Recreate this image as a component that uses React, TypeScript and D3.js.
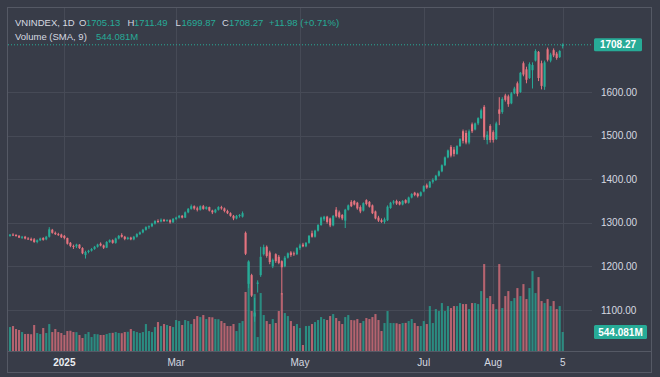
import React from 'react';
import * as d3 from 'd3';

const opens = [
1270,1273,1272,1270,1266,1268,1264,1263,1262,1256,1260,1265,1262,1268,1284,1277,1274,1273,
1270,1265,1254,1247,1246,1250,1242,1226,1233,1236,1240,1245,1252,1248,1243,1256,1260,
1254,1264,1272,1268,1263,1266,1262,1268,1274,1278,1284,1290,1292,1298,1304,1303,1307,1304,1306,1301,
1309,1312,1316,1312,1324,1332,1338,1333,1330,1338,1332,1336,1328,1324,1330,1336,1333,1327,1322,1316,1310,1316,1314,
1277,1160,1180,1085,1160,1180,1228,1245,1232,1200,1228,1222,1212,1200,1220,1232,1230,1228,
1242,1250,1246,1254,1276,1268,1282,1295,1308,1314,1310,1294,1330,1324,1318,1305,1330,1348,1350,1346,1336,1328,
1352,1348,1340,1326,1312,1306,1302,1306,1334,1346,1350,1348,1342,1352,1346,1358,1369,1367,1362,
1372,1386,1381,1394,1398,1408,1418,1432,1450,1474,1468,1458,1476,1510,1506,1484,1526,1514,1528,1540,1566,1490,1522,
1508,1492,1560,1554,1592,1590,1574,1597,1620,1600,1666,1652,1632,1650,1672,1692,1666,1612,1698,1672,1696,1688,1680,1705.13
];
const highs = [
1274,1276,1274,1272,1270,1270,1267,1266,1265,1262,1266,1267,1270,1290,1286,1280,1277,1275,
1272,1266,1256,1250,1252,1251,1244,1236,1238,1242,1247,1252,1255,1250,1258,1262,1262,
1266,1272,1276,1270,1268,1268,1270,1276,1280,1286,1292,1294,1300,1306,1308,1310,1309,1308,1308,1311,
1314,1318,1318,1326,1334,1342,1340,1337,1340,1341,1338,1337,1330,1332,1338,1339,1335,1330,1324,1318,1318,1320,1326,
1280,1214,1183,1128,1168,1245,1250,1248,1236,1218,1230,1226,1214,1224,1232,1235,1234,1244,
1252,1254,1256,1272,1282,1284,1297,1314,1316,1316,1312,1318,1336,1328,1320,1332,1342,1352,1352,1348,1340,1347,
1354,1350,1342,1328,1316,1310,1312,1340,1348,1352,1353,1350,1352,1354,1360,1368,1371,1369,1372,
1386,1390,1396,1402,1410,1420,1434,1452,1468,1478,1474,1478,1494,1514,1512,1514,1530,1530,1542,1562,1570,1510,1526,
1512,1532,1588,1588,1596,1594,1600,1612,1624,1646,1670,1658,1668,1668,1698,1694,1672,1672,1702,1690,1700,1692,1696,1711.49
];
const lows = [
1268,1270,1268,1265,1263,1262,1261,1258,1254,1253,1258,1259,1260,1266,1275,1272,1270,1265,
1262,1250,1244,1240,1242,1240,1228,1218,1230,1234,1238,1243,1246,1240,1242,1254,1252,
1252,1262,1266,1260,1261,1260,1260,1266,1272,1276,1282,1286,1290,1296,1300,1301,1302,1303,1298,1300,
1306,1310,1310,1311,1322,1330,1330,1326,1328,1330,1330,1326,1320,1322,1328,1330,1324,1320,1314,1306,1308,1312,1312,
1226,1150,1130,1073,1140,1176,1225,1220,1205,1196,1208,1205,1135,1198,1218,1222,1224,1226,
1238,1244,1244,1252,1266,1266,1280,1293,1304,1298,1290,1292,1312,1310,1306,1288,1328,1336,1340,1330,1322,1326,
1340,1335,1320,1308,1302,1300,1298,1304,1332,1342,1341,1340,1340,1344,1344,1356,1361,1358,1360,
1370,1378,1380,1390,1396,1406,1416,1430,1448,1450,1452,1456,1474,1482,1480,1480,1506,1512,1524,1538,1490,1480,1484,
1484,1490,1524,1550,1578,1566,1572,1595,1590,1598,1636,1620,1630,1608,1670,1625,1606,1605,1670,1668,1680,1674,1678,1699.87
];
const closes = [
1273,1272,1270,1266,1268,1264,1263,1260,1256,1260,1264,1261,1268,1285,1277,1274,1272,1267,
1265,1252,1247,1246,1250,1242,1230,1233,1236,1240,1245,1250,1248,1243,1256,1260,1254,
1264,1270,1268,1263,1266,1262,1268,1274,1278,1284,1290,1292,1298,1304,1302,1307,1304,1306,1301,1309,
1312,1316,1312,1324,1332,1338,1333,1330,1338,1332,1336,1328,1324,1330,1336,1333,1327,1322,1316,1310,1316,1318,1322,
1229,1210,1133,1094,1163,1222,1244,1224,1210,1215,1212,1208,1198,1220,1230,1226,1228,1242,
1248,1246,1254,1270,1268,1282,1295,1312,1314,1302,1294,1316,1315,1313,1310,1330,1340,1338,1342,1333,1326,1345,
1343,1337,1322,1310,1305,1302,1308,1337,1346,1349,1344,1342,1350,1346,1358,1366,1364,1361,1370,
1384,1381,1394,1398,1408,1418,1432,1450,1466,1454,1458,1476,1492,1488,1484,1510,1510,1528,1540,1558,1496,1502,1490,
1490,1528,1550,1584,1582,1572,1597,1608,1596,1644,1640,1628,1664,1662,1694,1632,1614,1668,1674,1686,1684,1678,1694,1708.27
];
const volumes = [
686,715,629,601,543,486,490,480,744,515,486,658,515,772,543,629,543,515,
458,572,580,543,540,458,372,486,543,400,486,480,458,460,486,515,520,
543,515,510,543,550,629,572,543,515,543,772,572,543,686,829,715,772,744,715,686,
887,858,744,887,858,772,915,1001,972,1030,915,972,965,915,910,858,801,715,715,772,572,801,858,
1690,2575,1145,1630,400,1660,1030,858,772,915,801,1145,1660,1087,1001,858,715,772,
658,172,715,720,772,829,887,972,915,887,1001,1058,944,858,772,972,1030,887,880,915,801,858,
944,915,972,1058,887,572,801,1145,801,800,795,772,801,805,858,915,801,715,715,
858,772,1287,801,1201,1145,1373,1145,1287,1230,1287,1287,1373,1344,1344,1201,1373,1373,1344,1716,2490,1516,1573,
1344,1201,2490,1230,1573,1716,1430,1516,1802,1573,1916,1487,1802,2288,1659,2116,1430,1373,1487,1287,1430,1201,1287,544.081
];

const tickLabels = ['2025', 'Mar', 'May', 'Jul', 'Aug', '5'];
const tickBars = [18, 55, 96, 137, 160, 183];
const priceTicks = [1100, 1200, 1300, 1400, 1500, 1600];

const legendSymbol = 'VNINDEX, 1D';
const legendOHLC = [
  { k: 'O', v: '1705.13' },
  { k: 'H', v: '1711.49' },
  { k: 'L', v: '1699.87' },
  { k: 'C', v: '1708.27' },
];
const legendChange = '+11.98 (+0.71%)';
const volumeLegend = 'Volume (SMA, 9)';
const volumeValue = '544.081M';
const lastPriceLabel = '1708.27';

const BG = '#383c48';
const GRID = '#464a56';
const FRAME = '#555965';
const TEXT = '#d6d9e0';
const UP = '#27ab97';
const DOWN = '#e6737f';
const FONT = '"Liberation Sans", Arial, sans-serif';

export default function App() {
  const W = 660, H = 377;
  const plotL = 8, plotR = 592, plotT = 8, plotB = 351;
  const n = closes.length;
  const x = d3.scaleLinear().domain([0, n - 1]).range([10, 562.7]);
  const y = d3.scaleLinear().domain([1100, 1600]).range([310, 92]);
  const yv = d3.scaleLinear().domain([0, 2500]).range([plotB, plotB - 87.3]);
  const bodyW = 2.1;

  const lastClose = closes[n - 1];
  const lastY = y(lastClose);
  const lastVolY = yv(volumes[n - 1]);

  const ohlcX = [79, 127.5, 175.5, 222];
  const valX = [86, 134, 181.5, 229];
  const fs = 10;

  return (
    <svg width={W} height={H} style={{ position: 'absolute', left: 0, top: 0, display: 'block' }}
      fontFamily={FONT}>
      <rect x={0} y={0} width={W} height={H} fill={BG} />
      {priceTicks.map((p) => (
        <line key={'hg' + p} x1={plotL} x2={plotR} y1={Math.round(y(p)) + 0.5} y2={Math.round(y(p)) + 0.5}
          stroke={GRID} strokeWidth={1} />
      ))}
      {tickBars.map((b, i) => (
        <line key={'vg' + i} x1={Math.round(x(b)) + 0.5} x2={Math.round(x(b)) + 0.5} y1={plotT} y2={plotB}
          stroke={GRID} strokeWidth={1} />
      ))}
      <g opacity={0.72}>
        {volumes.map((v, i) => (
          <rect key={'v' + i} x={x(i) - bodyW / 2} y={yv(v)} width={bodyW} height={plotB - yv(v)}
            fill={closes[i] >= opens[i] ? UP : DOWN} />
        ))}
      </g>
      {closes.map((c, i) => {
        const o = opens[i];
        const col = c >= o ? UP : DOWN;
        const top = y(Math.max(o, c));
        const bot = y(Math.min(o, c));
        const cx = x(i);
        return (
          <g key={'c' + i}>
            <line x1={cx} x2={cx} y1={y(highs[i])} y2={y(lows[i])} stroke={col} strokeWidth={1} />
            <rect x={cx - bodyW / 2} y={top} width={bodyW} height={Math.max(1, bot - top)} fill={col} />
          </g>
        );
      })}
      <line x1={plotL} x2={plotR} y1={lastY} y2={lastY} stroke={UP} strokeWidth={1} strokeDasharray="1,2" />
      <rect x={7.5} y={7.5} width={644} height={365} fill="none" stroke={FRAME} strokeWidth={1} />
      <line x1={7.5} x2={651.5} y1={plotB + 0.5} y2={plotB + 0.5} stroke={FRAME} strokeWidth={1} />
      {priceTicks.map((p) => (
        <text key={'pt' + p} x={601} y={y(p)} dy="0.35em" fontSize={fs} fill={TEXT}>
          {p.toFixed(2)}
        </text>
      ))}
      <rect x={594} y={lastY - 6.5} width={48} height={13} rx={1.5} fill={UP} />
      <text x={618} y={lastY} dy="0.35em" textAnchor="middle" fontSize={fs} fontWeight="bold" fill="#ffffff">
        {lastPriceLabel}
      </text>
      <rect x={594} y={lastVolY - 7} width={53} height={14} rx={1.5} fill={UP} />
      <text x={620.5} y={lastVolY} dy="0.35em" textAnchor="middle" fontSize={fs} fontWeight="bold" fill="#ffffff">
        {volumeValue}
      </text>
      {tickBars.map((b, i) => (
        <text key={'tl' + i} x={x(b)} y={366} textAnchor="middle" fontSize={fs}
          fontWeight={i === 0 ? 'bold' : 'normal'} fill={i === 0 ? '#eceef2' : TEXT}>
          {tickLabels[i]}
        </text>
      ))}
      <text x={15} y={26} fontSize={9.5} fill={TEXT}>{legendSymbol}</text>
      {legendOHLC.map((d, i) => (
        <g key={'lg' + i}>
          <text x={ohlcX[i]} y={26} fontSize={9.5} fill={TEXT}>{d.k}</text>
          <text x={valX[i]} y={26} fontSize={9.5} fill={UP}>{d.v}</text>
        </g>
      ))}
      <text x={269} y={26} fontSize={9.5} fill={UP}>{legendChange}</text>
      <text x={15} y={39.5} fontSize={9.5} fill={TEXT}>{volumeLegend}</text>
      <text x={96} y={39.5} fontSize={9.5} fill={UP}>{volumeValue}</text>
    </svg>
  );
}
